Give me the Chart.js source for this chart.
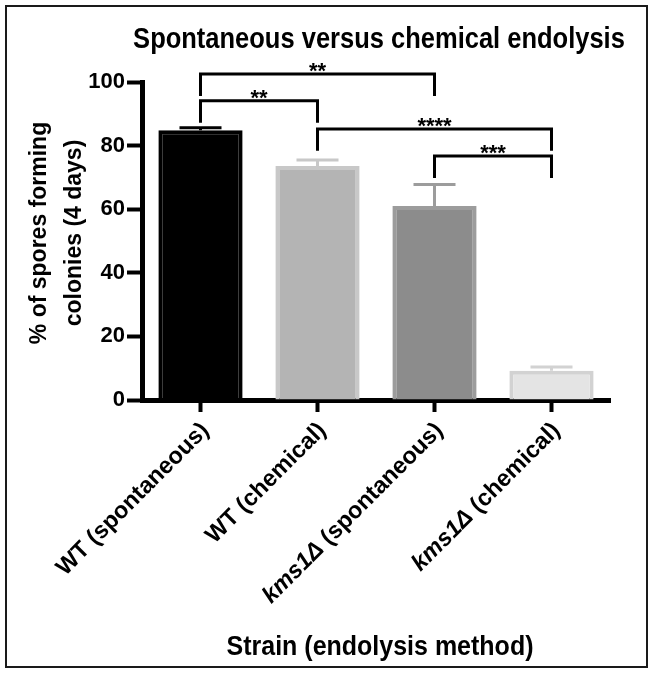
<!DOCTYPE html>
<html>
<head>
<meta charset="utf-8">
<script src="https://cdn.jsdelivr.net/npm/chart.js@4"></script>
<style>
  html, body { margin: 0; padding: 0; background: #fff; }
  canvas { display: block; }
</style>
</head>
<body>
<canvas id="c" width="655" height="675"></canvas>
<script>
// ---- data ----
const strains = ['WT', 'WT', 'kms1Δ', 'kms1Δ'];
const strainItalic = [false, false, true, true];
const methods = ['(spontaneous)', '(chemical)', '(spontaneous)', '(chemical)'];
const categories = strains.map((s, i) => s + ' ' + methods[i]);
const means = [84.8, 73.6, 61.0, 9.2];
const sems = [0.8, 1.9, 6.8, 1.2];
const yTicks = [0, 20, 40, 60, 80, 100];
const bracketFrom = [0, 0, 1, 2];
const bracketTo = [2, 1, 3, 3];
const bracketTop = [102.5, 94.1, 85.2, 76.7];
const bracketLegEnd = [95.6, 87.2, 78.4, 69.8];
const bracketLabels = ['**', '**', '****', '***'];
const titleText = 'Spontaneous versus chemical endolysis';
const yTitleLines = ['% of spores forming', 'colonies (4 days)'];
const xTitleText = 'Strain (endolysis method)';

// ---- styles ----
const FAM = '"Liberation Sans", Arial, Helvetica, sans-serif';
const fills = ['#000000', '#b4b4b4', '#8c8c8c', '#e4e4e4'];
const borders = ['#000000', '#c8c8c8', '#9c9c9c', '#d2d2d2'];

const overlay = {
  id: 'overlay',
  beforeDraw(chart) {
    const ctx = chart.ctx;
    ctx.save();
    ctx.fillStyle = '#fff';
    ctx.fillRect(0, 0, chart.width, chart.height);
    ctx.restore();
  },
  afterDatasetsDraw(chart) {
    const ctx = chart.ctx;
    const x = chart.scales.x, y = chart.scales.y;
    ctx.save();
    // error bars (upper only)
    means.forEach((m, i) => {
      const cx = x.getPixelForValue(i);
      const y0 = y.getPixelForValue(m);
      const y1 = y.getPixelForValue(m + sems[i]);
      ctx.strokeStyle = borders[i];
      ctx.lineWidth = 3;
      ctx.beginPath();
      ctx.moveTo(cx, y0);
      ctx.lineTo(cx, y1);
      ctx.moveTo(cx - 21, y1);
      ctx.lineTo(cx + 21, y1);
      ctx.stroke();
    });
    // significance brackets
    ctx.strokeStyle = '#000';
    ctx.fillStyle = '#000';
    ctx.lineWidth = 3;
    ctx.lineCap = 'butt';
    ctx.font = 'bold 22px ' + FAM;
    ctx.textAlign = 'center';
    ctx.textBaseline = 'alphabetic';
    bracketFrom.forEach((a, k) => {
      const xa = x.getPixelForValue(a);
      const xb = x.getPixelForValue(bracketTo[k]);
      const yt = y.getPixelForValue(bracketTop[k]);
      const yl = y.getPixelForValue(bracketLegEnd[k]);
      ctx.beginPath();
      ctx.moveTo(xa, yl);
      ctx.lineTo(xa, yt);
      ctx.lineTo(xb, yt);
      ctx.lineTo(xb, yl);
      ctx.stroke();
      ctx.fillText(bracketLabels[k], (xa + xb) / 2, yt + 4);
    });
    ctx.restore();
  },
  afterDraw(chart) {
    const ctx = chart.ctx;
    const x = chart.scales.x;
    ctx.save();
    ctx.fillStyle = '#000';
    ctx.textAlign = 'center';
    ctx.textBaseline = 'alphabetic';
    // title (slightly tall glyphs, as in the reference)
    ctx.save();
    ctx.translate(379, 48);
    ctx.scale(1, 1.12);
    ctx.font = 'bold 25.5px ' + FAM;
    ctx.fillText(titleText, 0, 0);
    ctx.restore();
    // x title
    ctx.save();
    ctx.translate(380, 655);
    ctx.scale(1, 1.12);
    ctx.font = 'bold 25px ' + FAM;
    ctx.fillText(xTitleText, 0, 0);
    ctx.restore();
    // y title
    ctx.save();
    ctx.translate(57, 233);
    ctx.rotate(-Math.PI / 2);
    ctx.font = 'bold 23px ' + FAM;
    ctx.textBaseline = 'middle';
    ctx.fillText(yTitleLines[0], 0, -17);
    ctx.fillText(yTitleLines[1], 0, 18);
    ctx.restore();
    // x tick labels, rotated 45°, strain part italic
    const fN = 'bold 23.5px ' + FAM;
    const fI = 'italic bold 23.5px ' + FAM;
    categories.forEach((c, i) => {
      const cx = x.getPixelForValue(i);
      ctx.save();
      ctx.translate(cx + 5, 427);
      ctx.rotate(-Math.PI / 4);
      ctx.textBaseline = 'middle';
      ctx.textAlign = 'left';
      ctx.font = fN;
      const wm = ctx.measureText(methods[i]).width;
      const ws = ctx.measureText(' ').width;
      ctx.font = strainItalic[i] ? fI : fN;
      const wst = ctx.measureText(strains[i]).width;
      const total = wst + ws + wm;
      ctx.fillText(strains[i], -total, 0);
      ctx.font = fN;
      ctx.fillText(methods[i], -wm, 0);
      ctx.restore();
    });
    // figure frame
    ctx.strokeStyle = '#1a1a1a';
    ctx.lineWidth = 2;
    ctx.strokeRect(6, 6, 641, 661);
    ctx.restore();
  }
};

new Chart(document.getElementById('c'), {
  type: 'bar',
  data: {
    labels: categories,
    datasets: [{
      data: means,
      backgroundColor: fills,
      borderColor: borders,
      borderWidth: 4,
      borderSkipped: 'start',
      barPercentage: 0.72,
      categoryPercentage: 1.0
    }]
  },
  options: {
    responsive: false,
    animation: false,
    devicePixelRatio: 1,
    layout: { padding: { left: 82, right: 45, top: 82, bottom: 255 } },
    plugins: { legend: { display: false }, title: { display: false }, tooltip: { enabled: false } },
    scales: {
      x: {
        type: 'category',
        offset: true,
        grid: { display: true, drawOnChartArea: false, offset: false, tickLength: 12, tickWidth: 4, color: '#000' },
        border: { display: true, width: 5, color: '#000' },
        ticks: { display: false },
        afterFit(s) { s.height = 20; }
      },
      y: {
        min: 0,
        max: 100,
        afterBuildTicks(s) { s.ticks = yTicks.map(v => ({ value: v })); },
        ticks: { color: '#000', font: { size: 22, weight: 'bold', family: FAM }, padding: 2 },
        grid: { display: true, drawOnChartArea: false, tickLength: 15, tickWidth: 4, color: '#000' },
        border: { display: true, width: 5, color: '#000' },
        afterFit(s) { s.width = 60; }
      }
    }
  },
  plugins: [overlay]
});
</script>
</body>
</html>
